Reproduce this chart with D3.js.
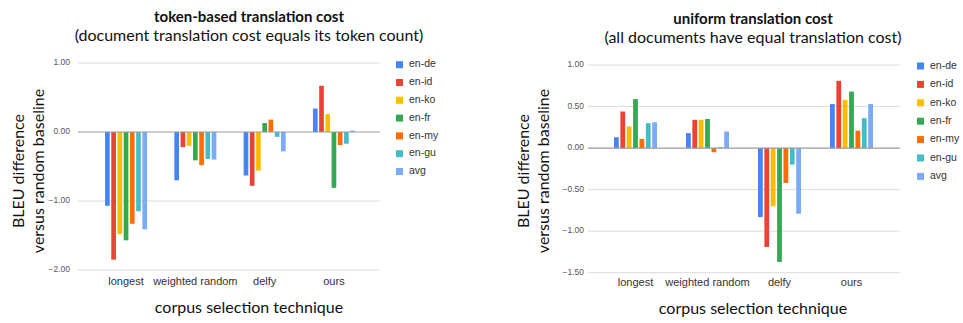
<!DOCTYPE html>
<html>
<head>
<meta charset="utf-8">
<script src="https://cdn.jsdelivr.net/npm/d3@7"></script>
<style>
  html, body { margin: 0; padding: 0; background: #fff; }
  svg { display: block; }
</style>
</head>
<body>
<svg id="chart" width="963" height="323"></svg>
<script>
// ---------- DATA ----------
const categories = ["longest", "weighted random", "delfy", "ours"];
const seriesNames = ["en-de", "en-id", "en-ko", "en-fr", "en-my", "en-gu", "avg"];
const seriesColors = ["#4285F4", "#EA4335", "#FBBC04", "#34A853", "#FF6D01", "#46BDC6", "#7BAAF7"];

// token-based translation cost (values per category)
const tokenEnDe = [-1.07, -0.70, -0.63, 0.34];
const tokenEnId = [-1.85, -0.22, -0.78, 0.67];
const tokenEnKo = [-1.48, -0.20, -0.56, 0.26];
const tokenEnFr = [-1.57, -0.41, 0.13, -0.81];
const tokenEnMy = [-1.33, -0.48, 0.18, -0.19];
const tokenEnGu = [-1.15, -0.39, -0.07, -0.17];
const tokenAvg  = [-1.41, -0.40, -0.28, 0.02];
const tokenTicks = [1, 0, -1, -2];

// uniform translation cost (values per category)
const uniEnDe = [0.13, 0.18, -0.83, 0.53];
const uniEnId = [0.44, 0.34, -1.19, 0.81];
const uniEnKo = [0.26, 0.34, -0.70, 0.58];
const uniEnFr = [0.59, 0.35, -1.37, 0.68];
const uniEnMy = [0.11, -0.05, -0.42, 0.21];
const uniEnGu = [0.30, 0.01, -0.20, 0.36];
const uniAvg  = [0.31, 0.20, -0.79, 0.53];
const uniTicks = [1, 0.5, 0, -0.5, -1, -1.5];

const titleFont = "Lato, 'Open Sans', sans-serif";
const chartFont = "'Liberation Sans', Arial, sans-serif";

const svg = d3.select("#chart");
svg.append("rect").attr("width", 963).attr("height", 323).attr("fill", "#fff");

function drawChart(cfg) {
  const g = svg.append("g");
  const seriesValues = cfg.series;

  const y = d3.scaleLinear().domain(cfg.yDomain).range([cfg.yBottom, cfg.yTop]);
  const x0 = d3.scaleBand().domain(categories).range(cfg.bandRange).padding(0);
  const x1 = d3.scaleBand().domain(seriesNames).range([-cfg.groupHalf, cfg.groupHalf]).paddingInner(0.25).paddingOuter(0);

  // gridlines
  g.selectAll("line.grid").data(cfg.ticks.filter(t => t !== 0)).join("line")
    .attr("x1", cfg.gridX[0]).attr("x2", cfg.gridX[1])
    .attr("y1", d => y(d)).attr("y2", d => y(d))
    .attr("stroke", "#dcdcdc").attr("stroke-width", 1);

  // tick labels
  g.selectAll("text.tick").data(cfg.ticks).join("text")
    .attr("x", cfg.tickX).attr("y", d => y(d))
    .attr("text-anchor", "end").attr("dominant-baseline", "middle")
    .attr("font-family", chartFont).attr("font-size", 8.5).attr("fill", "#555")
    .text(d => d3.format(".2f")(d));

  // bars
  seriesNames.forEach((s, si) => {
    g.selectAll(null).data(seriesValues[si]).join("rect")
      .attr("x", (d, ci) => x0(categories[ci]) + x0.bandwidth() / 2 + x1(s))
      .attr("width", x1.bandwidth())
      .attr("y", d => Math.min(y(d), y(0)))
      .attr("height", d => Math.abs(y(d) - y(0)))
      .attr("fill", seriesColors[si]);
  });

  // zero line
  g.append("line")
    .attr("x1", cfg.gridX[0]).attr("x2", cfg.gridX[1])
    .attr("y1", y(0)).attr("y2", y(0))
    .attr("stroke", "#999").attr("stroke-width", 1.2);

  // category labels
  g.selectAll("text.cat").data(categories).join("text")
    .attr("x", d => x0(d) + x0.bandwidth() / 2).attr("y", cfg.catY)
    .attr("text-anchor", "middle")
    .attr("font-family", chartFont).attr("font-size", 11).attr("fill", "#333")
    .text(d => d);

  // legend
  const lg = g.selectAll("g.leg").data(seriesNames).join("g")
    .attr("transform", (d, i) => `translate(${cfg.legX},${cfg.legY + i * cfg.legStep})`);
  lg.append("rect").attr("x", 0).attr("y", -3.5).attr("width", 7).attr("height", 7)
    .attr("fill", (d, i) => seriesColors[i]);
  lg.append("text").attr("x", 13).attr("y", 0).attr("dominant-baseline", "middle")
    .attr("font-family", chartFont).attr("font-size", 10.5).attr("fill", "#333")
    .text(d => d);

  // titles
  g.append("text").attr("x", cfg.cx).attr("y", cfg.titleY).attr("text-anchor", "middle")
    .attr("font-family", titleFont).attr("font-weight", "bold").attr("font-size", 15).attr("fill", "#111")
    .text(cfg.title);
  g.append("text").attr("x", cfg.cx).attr("y", cfg.subY).attr("text-anchor", "middle")
    .attr("font-family", titleFont).attr("font-size", 16).attr("fill", "#111")
    .text(cfg.subtitle);

  // x axis title
  g.append("text").attr("x", cfg.cx).attr("y", cfg.xTitleY).attr("text-anchor", "middle")
    .attr("font-family", titleFont).attr("font-size", 16).attr("fill", "#111")
    .text("corpus selection technique");

  // y axis title (two lines)
  const yt = g.append("text")
    .attr("transform", `translate(${cfg.yTitleX},${cfg.yTitleCY}) rotate(-90)`)
    .attr("text-anchor", "middle")
    .attr("font-family", titleFont).attr("font-size", 16).attr("fill", "#111");
  yt.append("tspan").attr("x", 0).attr("y", 0).text("BLEU difference");
  yt.append("tspan").attr("x", 0).attr("y", 20).text("versus random baseline");
}

drawChart({
  series: [tokenEnDe, tokenEnId, tokenEnKo, tokenEnFr, tokenEnMy, tokenEnGu, tokenAvg],
  ticks: tokenTicks,
  yDomain: [-2, 1], yBottom: 270, yTop: 63,
  bandRange: [91.4, 368.6], groupHalf: 21,
  gridX: [78, 380], tickX: 70, catY: 285,
  legX: 396, legY: 64.7, legStep: 17.8,
  cx: 249, titleY: 22, subY: 41, xTitleY: 313,
  title: "token-based translation cost",
  subtitle: "(document translation cost equals its token count)",
  yTitleX: 24, yTitleCY: 171
});

drawChart({
  series: [uniEnDe, uniEnId, uniEnKo, uniEnFr, uniEnMy, uniEnGu, uniAvg],
  ticks: uniTicks,
  yDomain: [-1.5, 1], yBottom: 272.7, yTop: 65,
  bandRange: [599.5, 887.5], groupHalf: 21.5,
  gridX: [588, 900], tickX: 584, catY: 286,
  legX: 917, legY: 66, legStep: 18.4,
  cx: 753, titleY: 24, subY: 43, xTitleY: 314,
  title: "uniform translation cost",
  subtitle: "(all documents have equal translation cost)",
  yTitleX: 529, yTitleCY: 171
});
</script>
</body>
</html>
